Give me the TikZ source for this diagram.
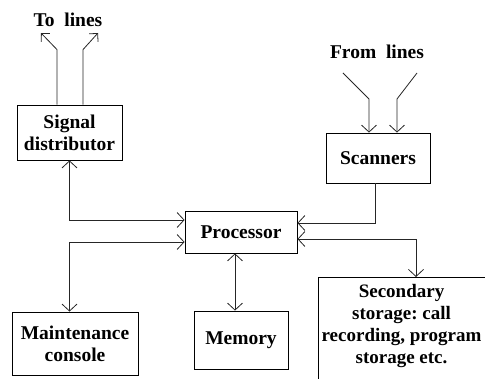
\documentclass[tikz,border=0pt]{standalone}
\usepackage{fontspec}
\setmainfont{Liberation Serif}
\newfontfamily\tms{Liberation Serif}
\usetikzlibrary{arrows.meta}
\tikzset{
  box/.style={draw, line width=0.8pt, inner sep=0pt, align=center, font=\tms\bfseries\fontsize{19.5}{22}\selectfont},
  lbl/.style={inner sep=0pt, font=\tms\bfseries\fontsize{19.5}{22}\selectfont},
  conn/.style={line width=0.8pt, color=black!85},
  both/.style={conn, {Straight Barb[length=7pt,width=15pt]}-{Straight Barb[length=7pt,width=15pt]}},
  one/.style={conn, -{Straight Barb[length=7pt,width=15pt]}},
  small/.style={conn, -{Straight Barb[length=6pt,width=12pt]}}
}
\begin{document}
\begin{tikzpicture}[x=1pt,y=-1pt]
\useasboundingbox (0,0) rectangle (485,379);
\clip (0,0) rectangle (485,379);
% boxes
\node[box, minimum width=105pt, minimum height=55pt] (sig) at (69.5,132.5) {Signal\\distributor};
\node[box, minimum width=104pt, minimum height=50pt] (scan) at (378,158) {Scanners};
\node[box, minimum width=112pt, minimum height=42pt] (proc) at (241,232) {Processor};
\node[box, minimum width=126pt, minimum height=63pt] (maint) at (75,343.5) {Maintenance\\console};
\node[box, minimum width=94pt, minimum height=58pt] (mem) at (241,340) {Memory};
\node[lbl, align=center, font=\tms\bfseries\fontsize{19}{21.7}\selectfont] (sec) at (401.5,326) {Secondary\\storage:\ call\\recording,\ program\\storage\ etc.};
\coordinate (secTL) at (318,277);
\coordinate (secTop) at (416,277);
\coordinate (secBL) at (318,385);
\coordinate (secTR) at (490,277);
\draw[line width=0.8pt] (secBL) -- (secTL) -- (secTR);
% labels
\node[lbl] (tolines) at (68,20) {To\ \ lines};
\node[lbl] (fromlines) at (377,52) {From\ \ lines};
% to lines
\coordinate (tl1) at (41,33);
\coordinate (tl2) at (98,33);
\draw[small] ([xshift=-12.5pt]sig.north) -- ++(0,-55) -- (tl1);
\draw[small] ([xshift=13.5pt]sig.north) -- ++(0,-55) -- (tl2);
% from lines
\coordinate (fl1) at (343,73);
\coordinate (fl2) at (417,73);
\draw[one] (fl1) -- (369,99) -- (scan.north -| 369,0);
\draw[one] (fl2) -- (397,99) -- (scan.north -| 397,0);
% processor connections
\draw[both] (sig.south) |- ([yshift=12pt]proc.west);
\draw[both] ([yshift=-10pt]proc.west) -| (sig.south |- maint.north);
\draw[both] ([xshift=-6pt]proc.south) -- ([xshift=-6pt]proc.south |- mem.north);
\draw[one] ([xshift=-3pt]scan.south) |- ([yshift=9pt]proc.east);
\draw[both] ([yshift=-7pt]proc.east) -| (secTop);
\end{tikzpicture}
\end{document}
